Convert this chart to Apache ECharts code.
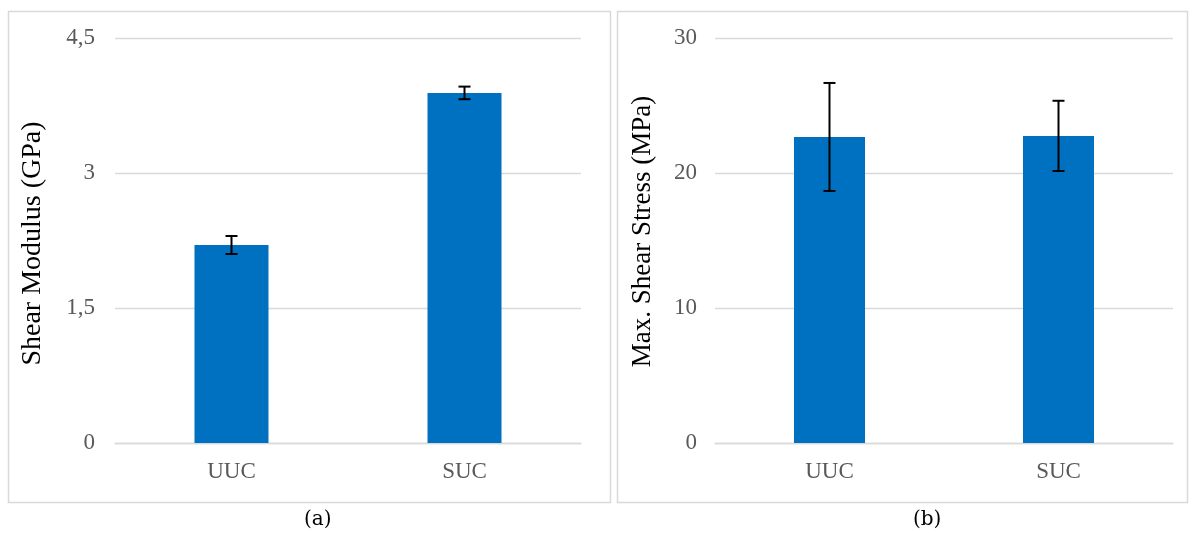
<!DOCTYPE html>
<html><head><meta charset="utf-8">
<script src="https://cdn.jsdelivr.net/npm/echarts@6/dist/echarts.min.js"></script>
<style>html,body{margin:0;padding:0;background:#fff}#c{width:1197px;height:533px}</style>
</head><body><div id="c"></div>
<script>
const categories = ['UUC', 'SUC'];
const shearModulus = [2.2, 3.89];
const shearModulusErr = [0.1, 0.07];
const maxShearStress = [22.67, 22.75];
const maxShearStressErr = [4.0, 2.6];
const leftTicks = { min: 0, max: 4.5, interval: 1.5 };
const rightTicks = { min: 0, max: 30, interval: 10 };

const chart = echarts.init(document.getElementById('c'));
const serif = '"Liberation Serif", "Times New Roman", serif';
const tickColor = '#595959';
const gridColor = '#D9D9D9';

function errSeries(idx, vals, errs) {
  return {
    type: 'custom', xAxisIndex: idx, yAxisIndex: idx, z: 10,
    data: vals.map((v, i) => [i, v - errs[i], v + errs[i]]),
    renderItem: function (params, api) {
      const lo = api.coord([api.value(0), api.value(1)]);
      const hi = api.coord([api.value(0), api.value(2)]);
      const hw = 6;
      const st = { stroke: '#000', lineWidth: 2 };
      return { type: 'group', children: [
        { type: 'line', shape: { x1: lo[0], y1: lo[1], x2: hi[0], y2: hi[1] }, style: st },
        { type: 'line', shape: { x1: lo[0] - hw, y1: lo[1], x2: lo[0] + hw, y2: lo[1] }, style: st },
        { type: 'line', shape: { x1: hi[0] - hw, y1: hi[1], x2: hi[0] + hw, y2: hi[1] }, style: st }
      ]};
    }
  };
}

function xAx(gi) {
  return {
    type: 'category', gridIndex: gi, data: categories,
    axisLine: { show: true, lineStyle: { color: gridColor, width: 1.3 } },
    axisTick: { show: false },
    axisLabel: { color: tickColor, fontFamily: serif, fontSize: 23, margin: 17 }
  };
}
function yAx(gi, t, name, fmt, gap, margin, size, pad) {
  return {
    type: 'value', gridIndex: gi, min: t.min, max: t.max, interval: t.interval,
    name: name, nameLocation: 'middle', nameGap: gap,
    nameTextStyle: { color: '#000', fontFamily: serif, fontSize: size, padding: pad },
    axisLine: { show: false }, axisTick: { show: false },
    splitLine: { lineStyle: { color: gridColor, width: 1.3 } },
    axisLabel: { color: tickColor, fontFamily: serif, fontSize: 23, margin: margin, formatter: fmt }
  };
}

chart.setOption({
  animation: false,
  backgroundColor: '#fff',
  graphic: [
    { type: 'rect', shape: { x: 8.5, y: 11.5, width: 602, height: 491 }, style: { fill: 'none', stroke: gridColor, lineWidth: 1.5 } },
    { type: 'rect', shape: { x: 617.5, y: 11.5, width: 570, height: 491 }, style: { fill: 'none', stroke: gridColor, lineWidth: 1.5 } },
    { type: 'text', left: 304, top: 510, style: { text: '(a)', font: '20px "DejaVu Serif", serif', fill: '#000' } },
    { type: 'text', left: 913, top: 510, style: { text: '(b)', font: '20px "DejaVu Serif", serif', fill: '#000' } }
  ],
  grid: [
    { left: 115, right: 1197 - 581, top: 38, bottom: 533 - 443 },
    { left: 715, right: 1197 - 1173, top: 38, bottom: 533 - 443 }
  ],
  xAxis: [xAx(0), xAx(1)],
  yAxis: [
    yAx(0, leftTicks, 'Shear Modulus (GPa)', v => String(v).replace('.', ','), 68, 20, 28, [0, 6, 0, 0]),
    yAx(1, rightTicks, 'Max. Shear Stress (MPa)', v => String(v), 59, 18, 27, [0, 0, 0, 18])
  ],
  series: [
    { type: 'bar', xAxisIndex: 0, yAxisIndex: 0, data: shearModulus, barWidth: 74, itemStyle: { color: '#0070C0' } },
    { type: 'bar', xAxisIndex: 1, yAxisIndex: 1, data: maxShearStress, barWidth: 71, itemStyle: { color: '#0070C0' } },
    errSeries(0, shearModulus, shearModulusErr),
    errSeries(1, maxShearStress, maxShearStressErr)
  ]
});
</script></body></html>
